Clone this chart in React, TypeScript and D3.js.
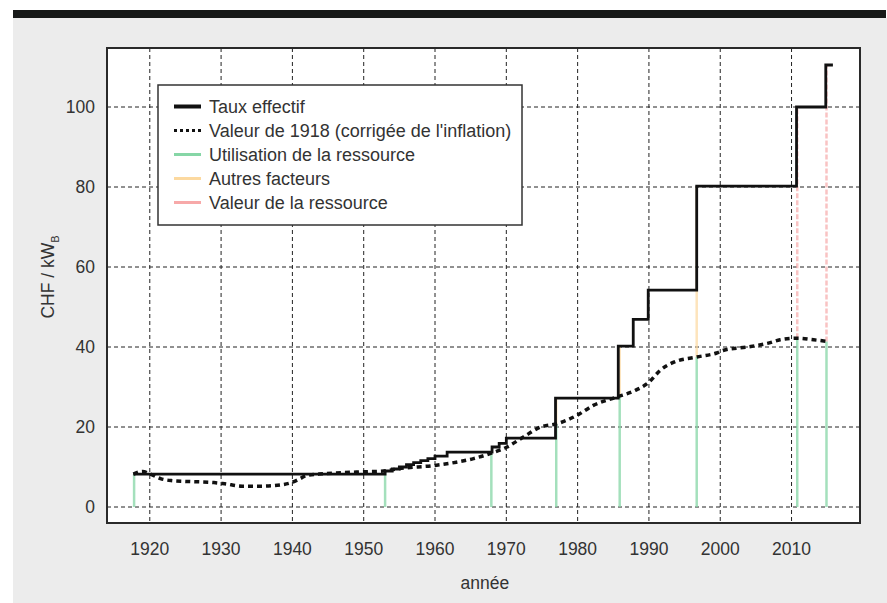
import React, { useEffect } from 'react';
import * as d3 from 'd3';

// Taux effectif (step line), CHF / kW_B
const rateYears = [1917.7, 1953, 1954, 1955, 1956, 1957, 1958, 1959, 1960, 1961.7, 1968, 1969, 1970, 1976.9, 1985.7, 1987.8, 1989.9, 1996.7, 2010.7, 2014.8, 2015.8];
const rateValues = [8.2, 9.0, 9.5, 10.0, 10.6, 11.1, 11.6, 12.1, 12.7, 13.7, 15.0, 15.9, 17.2, 27.2, 40.2, 46.9, 54.2, 80.2, 100, 110.5, 110.5];

// Valeur de 1918 corrigée de l'inflation
const inflYears = [1917.7, 1919, 1920, 1921.5, 1923, 1925, 1929, 1930.5, 1933, 1935.5, 1938.3, 1940, 1941.1, 1942, 1944.4, 1947.2, 1950, 1952.8, 1955, 1960, 1963, 1965.4, 1967.8, 1970.1, 1972.4, 1974.8, 1977.1, 1979.9, 1982.2, 1985.5, 1987.9, 1990, 1991.6, 1993.5, 1996.7, 1999.5, 2000.5, 2003.8, 2006.6, 2008.4, 2010.8, 2013.1, 2015];
const inflValues = [8.2, 8.9, 8.3, 7.1, 6.6, 6.4, 6.1, 5.8, 5.2, 5.2, 5.5, 6.2, 7.1, 7.9, 8.3, 8.6, 8.8, 9.0, 9.6, 10.4, 11.2, 12.1, 13.4, 15.0, 17.5, 20.0, 20.8, 22.9, 25.4, 27.5, 29.0, 31.2, 34.2, 36.2, 37.5, 38.5, 39.2, 40.0, 40.9, 41.8, 42.2, 41.8, 41.4];

// adaptations: green part up to the inflation-corrected value, then the rest
const eventYears = [1917.8, 1953, 1967.9, 1977, 1985.9, 1996.7, 2010.8, 2014.9];
const eventInfl = [8.2, 8.8, 13.3, 20.8, 27.6, 37.5, 42.2, 41.4];
const eventRate = [8.2, 9.0, 15.0, 27.2, 40.2, 80.2, 100, 110.5];
const eventKind = ['', '', '', 'autres', 'autres', 'autres', 'valeur', 'valeur'];

const xTicks = [1920, 1930, 1940, 1950, 1960, 1970, 1980, 1990, 2000, 2010];
const yTicks = [0, 20, 40, 60, 80, 100];

const legendItems = [
  'Taux effectif',
  'Valeur de 1918 (corrigée de l\'inflation)',
  'Utilisation de la ressource',
  'Autres facteurs',
  'Valeur de la ressource',
];

const W = 887;
const H = 603;
const left = 107, right = 860, top = 48, bottom = 523;
const font = '"Liberation Sans", Arial, sans-serif';
const green = '#86d6a6';
const orange = '#fcd9a0';
const red = '#f7a9a9';

export default function App() {
  useEffect(() => {
    document.body.style.margin = '0';
  }, []);

  const x = d3.scaleLinear().domain([1914, 2019.6]).range([left, right]);
  const y = d3.scaleLinear().domain([-4, 114.75]).range([bottom, top]);

  const stepLine = d3.line<number>()
    .x((d, i) => x(rateYears[i]))
    .y(d => y(d))
    .curve(d3.curveStepAfter);

  const inflLine = d3.line<number>()
    .x((d, i) => x(inflYears[i]))
    .y(d => y(d))
    .curve(d3.curveMonotoneX);

  const legendColors = ['#111', '#111', green, orange, red];

  return (
    <svg width={W} height={H} style={{ display: 'block', fontFamily: font }}>
      <rect x={0} y={0} width={W} height={H} fill="#fff" />
      <rect x={13} y={18} width={W - 13} height={H - 18} fill="#ececec" />
      <rect x={13} y={10} width={W - 14} height={8} fill="#171918" />

      <rect x={left + 1} y={top + 1} width={right - left} height={bottom - top} fill="#d0d0d0" />
      <rect x={left} y={top} width={right - left} height={bottom - top} fill="#fff" />

      {xTicks.map(t => (
        <line key={'gx' + t} x1={x(t)} x2={x(t)} y1={top} y2={bottom}
          stroke="#222" strokeWidth={1} strokeDasharray="4,3" />
      ))}
      {yTicks.map(t => (
        <line key={'gy' + t} x1={left} x2={right} y1={y(t)} y2={y(t)}
          stroke="#222" strokeWidth={1} strokeDasharray="4,3" />
      ))}

      {eventYears.map((yr, i) => (
        <g key={'ev' + i}>
          <line x1={x(yr)} x2={x(yr)} y1={y(0)} y2={y(eventInfl[i])}
            stroke={green} strokeOpacity={0.75} strokeWidth={2.5} />
          {eventKind[i] !== '' && (
            <line x1={x(yr)} x2={x(yr)} y1={y(eventInfl[i])} y2={y(eventRate[i])}
              stroke={eventKind[i] === 'autres' ? orange : red}
              strokeOpacity={0.7} strokeWidth={2.5}
              strokeDasharray={eventKind[i] === 'valeur' ? '5,2' : undefined} />
          )}
        </g>
      ))}

      <path d={inflLine(inflValues) || ''} fill="none" stroke="#111" strokeWidth={3.5} strokeDasharray="5,4" />
      <path d={stepLine(rateValues) || ''} fill="none" stroke="#111" strokeWidth={2.8} />

      <rect x={left} y={top} width={right - left} height={bottom - top} fill="none" stroke="#2a2a2a" strokeWidth={2} />

      {yTicks.map(t => (
        <text key={'ty' + t} x={95} y={y(t)} dy="0.35em" textAnchor="end"
          fontSize={17.5} fill="#333">{t}</text>
      ))}
      {xTicks.map(t => (
        <text key={'tx' + t} x={x(t)} y={549} dy="0.35em" textAnchor="middle"
          fontSize={17.5} fill="#333">{t}</text>
      ))}

      <text x={x(1967)} y={583} dy="0.35em" textAnchor="middle" fontSize={17.5} fill="#333">année</text>
      <text transform="translate(48,277) rotate(-90)" textAnchor="middle" fontSize={17.5} fill="#333" dy="0.35em">
        CHF / kW<tspan fontSize={11} dy="5">B</tspan>
      </text>

      <g>
        <rect x={158} y={85} width={364} height={140} fill="#fff" stroke="#333" strokeWidth={1.5} />
        {legendItems.map((name, i) => {
          const ly = 106.5 + i * 24;
          return (
            <g key={name}>
              <line x1={174} x2={201} y1={ly} y2={ly} stroke={legendColors[i]}
                strokeWidth={i === 0 ? 4 : 3}
                strokeDasharray={i === 1 ? '3,3' : undefined} />
              <text x={209} y={ly} dy="0.35em" fontSize={18} fill="#333">{name}</text>
            </g>
          );
        })}
      </g>
    </svg>
  );
}
